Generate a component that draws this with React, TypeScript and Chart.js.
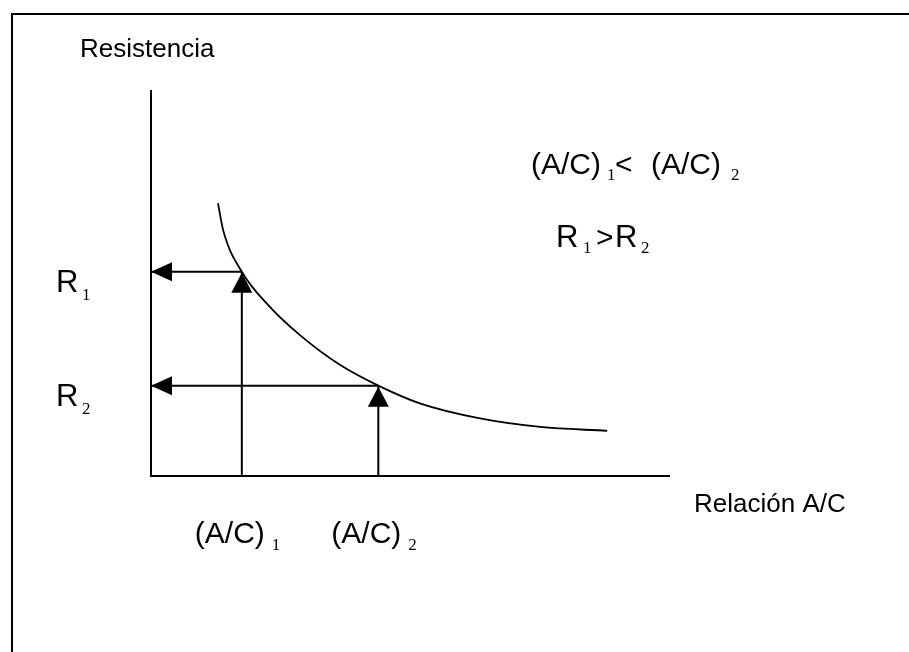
import React, { useEffect, useRef } from "react";
import { Chart, registerables } from "chart.js";

Chart.register(...registerables);

// Strength vs. water/cement ratio curve (abstract units, 0..10 on both axes)
const CURVE_X = [1.29, 1.39, 1.75, 2.29, 2.87, 3.64, 4.38, 5.18, 6.34, 7.5, 8.79];
const CURVE_Y = [7.07, 6.37, 5.29, 4.38, 3.65, 2.88, 2.34, 1.88, 1.49, 1.27, 1.17];

// Two marked ratios and the strengths they give on the curve
const AC_VALUES = [1.75, 4.38];
const R_VALUES = [5.29, 2.34];
const SUBSCRIPTS = ["1", "2"];

const AXIS_MAX = 10;

const SANS = '"Liberation Sans", Arial, sans-serif';
const SERIF = '"Liberation Serif", "Times New Roman", serif';

function text(ctx: CanvasRenderingContext2D, s: string, x: number, y: number, size: number, family = SANS) {
  ctx.font = `${size}px ${family}`;
  ctx.fillText(s, x, y);
}

const overlay = {
  id: "overlay",
  afterDatasetsDraw(chart: any) {
    const ctx: CanvasRenderingContext2D = chart.ctx;
    const xs = chart.scales.x;
    const ys = chart.scales.y;
    ctx.save();
    ctx.fillStyle = "#000";
    ctx.strokeStyle = "#000";

    // frame
    ctx.lineWidth = 2;
    ctx.beginPath();
    ctx.moveTo(12, chart.height);
    ctx.lineTo(12, 14);
    ctx.lineTo(chart.width, 14);
    ctx.stroke();

    const x0 = xs.getPixelForValue(0);
    const y0 = ys.getPixelForValue(0);

    // arrowheads
    AC_VALUES.forEach((ac, i) => {
      const px = xs.getPixelForValue(ac);
      const py = ys.getPixelForValue(R_VALUES[i]);
      // pointing left onto the strength axis
      ctx.beginPath();
      ctx.moveTo(x0, py);
      ctx.lineTo(x0 + 21, py - 9.5);
      ctx.lineTo(x0 + 21, py + 9.5);
      ctx.closePath();
      ctx.fill();
      // pointing up onto the curve
      ctx.beginPath();
      ctx.moveTo(px, py + 1);
      ctx.lineTo(px - 10.5, py + 21);
      ctx.lineTo(px + 10.5, py + 21);
      ctx.closePath();
      ctx.fill();
    });

    ctx.textBaseline = "alphabetic";
    ctx.textAlign = "left";

    // axis titles
    text(ctx, "Resistencia", 80, 57, 26);
    text(ctx, "Relación A/C", 694, 512, 26);

    // R labels beside the strength axis
    R_VALUES.forEach((r, i) => {
      const py = ys.getPixelForValue(r);
      text(ctx, "R", 56, py + 20, 31);
      text(ctx, SUBSCRIPTS[i], 82, py + 28, 17, SERIF);
    });

    // (A/C) labels under the ratio axis
    AC_VALUES.forEach((ac, i) => {
      const px = xs.getPixelForValue(ac);
      text(ctx, "(A/C)", px - 47, y0 + 67, 30);
      text(ctx, SUBSCRIPTS[i], px + 30, y0 + 74, 17, SERIF);
    });

    // relations
    text(ctx, "(A/C)", 531, 174, 30);
    text(ctx, "1", 607, 180, 17, SERIF);
    text(ctx, "<", 615, 174, 30);
    text(ctx, "(A/C)", 651, 174, 30);
    text(ctx, "2", 731, 180, 17, SERIF);

    text(ctx, "R", 556, 247, 31);
    text(ctx, "1", 583, 253, 17, SERIF);
    text(ctx, ">", 596, 247, 30);
    text(ctx, "R", 615, 247, 31);
    text(ctx, "2", 641, 253, 17, SERIF);

    ctx.restore();
  },
};

export default function App() {
  const ref = useRef<HTMLCanvasElement | null>(null);

  useEffect(() => {
    document.body.style.margin = "0";
    const canvas = ref.current;
    if (!canvas) return;

    const line = (data: { x: number; y: number }[], extra: any = {}) => ({
      data,
      showLine: true,
      borderColor: "#000",
      borderWidth: 2,
      pointRadius: 0,
      fill: false,
      clip: false,
      ...extra,
    });

    const datasets: any[] = [
      // axes
      line([
        { x: 0, y: AXIS_MAX },
        { x: 0, y: 0 },
        { x: AXIS_MAX, y: 0 },
      ]),
      // curve
      line(
        CURVE_X.map((x, i) => ({ x, y: CURVE_Y[i] })),
        { cubicInterpolationMode: "monotone", borderWidth: 1.8 }
      ),
    ];

    AC_VALUES.forEach((ac, i) => {
      datasets.push(
        line([
          { x: 0, y: R_VALUES[i] },
          { x: ac, y: R_VALUES[i] },
        ])
      );
      datasets.push(
        line([
          { x: ac, y: 0 },
          { x: ac, y: R_VALUES[i] },
        ])
      );
    });

    const chart = new Chart(canvas, {
      type: "scatter",
      data: { datasets },
      options: {
        animation: false,
        responsive: false,
        events: [],
        layout: { padding: { left: 151, top: 90, right: 239, bottom: 176 } },
        scales: {
          x: { type: "linear", min: 0, max: AXIS_MAX, display: false },
          y: { type: "linear", min: 0, max: AXIS_MAX, display: false },
        },
        plugins: { legend: { display: false }, tooltip: { enabled: false } },
      },
      plugins: [overlay],
    });

    return () => chart.destroy();
  }, []);

  return (
    <div style={{ width: 909, height: 652, background: "#fff" }}>
      <canvas ref={ref} width={909} height={652} style={{ display: "block" }} />
    </div>
  );
}
